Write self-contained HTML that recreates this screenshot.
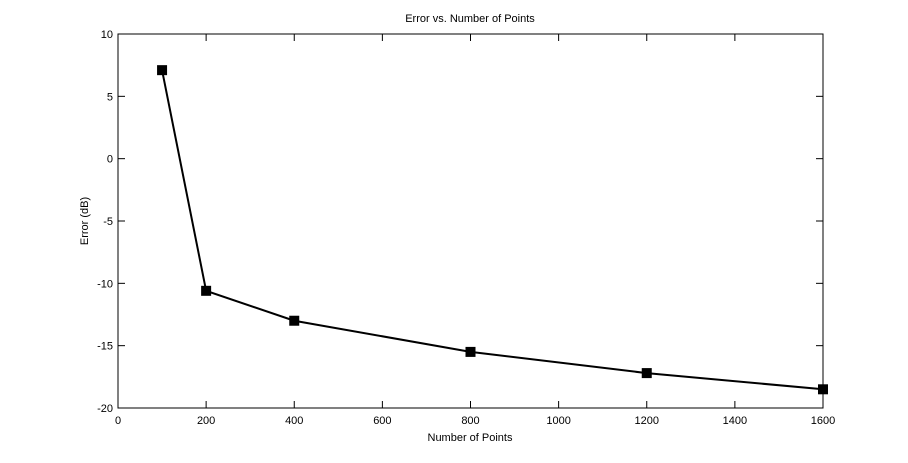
<!DOCTYPE html>
<html><head><meta charset="utf-8"><style>
html,body{margin:0;padding:0;background:#fff;}
svg text{font-family:"Liberation Sans",Arial,sans-serif;font-size:11px;fill:#000;}
</style></head><body>
<svg id="chart" width="908" height="458" xmlns="http://www.w3.org/2000/svg">
<rect width="908" height="458" fill="#fff"/>
<g id="axes"></g>
<g id="series"></g>
<text x="470" y="22" text-anchor="middle">Error vs. Number of Points</text>
<text x="470" y="441" text-anchor="middle">Number of Points</text>
<text transform="translate(88,221) rotate(-90)" text-anchor="middle">Error (dB)</text>
</svg>
<script>
const xValues=[100,200,400,800,1200,1600];
const yValues=[7.1,-10.6,-13.0,-15.5,-17.2,-18.5];
const xTicks=[0,200,400,600,800,1000,1200,1400,1600];
const yTicks=[10,5,0,-5,-10,-15,-20];
const L=118,R=823,T=34,B=408;
const xs=v=>L+(v-0)/1600*(R-L);
const ys=v=>T+(10-v)/30*(B-T);
const NS='http://www.w3.org/2000/svg';
const ax=document.getElementById('axes'),se=document.getElementById('series');
function mk(t,a,p){const e=document.createElementNS(NS,t);for(const k in a)e.setAttribute(k,a[k]);p.appendChild(e);return e;}
const box=mk('rect',{x:L,y:T,width:R-L,height:B-T,fill:'none',stroke:'#000','stroke-width':1},ax);


xTicks.forEach(v=>{const x=xs(v);
mk('line',{x1:x,y1:B,x2:x,y2:B-7,stroke:'#000'},ax);
mk('line',{x1:x,y1:T,x2:x,y2:T+7,stroke:'#000'},ax);
const t=mk('text',{x:x,y:B+16,'text-anchor':'middle'},ax);t.textContent=v;

});
yTicks.forEach(v=>{const y=ys(v);
mk('line',{x1:L,y1:y,x2:L+7,y2:y,stroke:'#000'},ax);
mk('line',{x1:R,y1:y,x2:R-7,y2:y,stroke:'#000'},ax);
const t=mk('text',{x:L-5,y:y+4,'text-anchor':'end'},ax);t.textContent=v;

});
const pts=xValues.map((v,i)=>xs(v)+','+ys(yValues[i])).join(' ');
const line=mk('polyline',{points:pts,fill:'none',stroke:'#000','stroke-width':2},se);


xValues.forEach((v,i)=>{const m=mk('rect',{x:xs(v)-5,y:ys(yValues[i])-5,width:10,height:10,fill:'#000'},se);

});
</script>
</body></html>
